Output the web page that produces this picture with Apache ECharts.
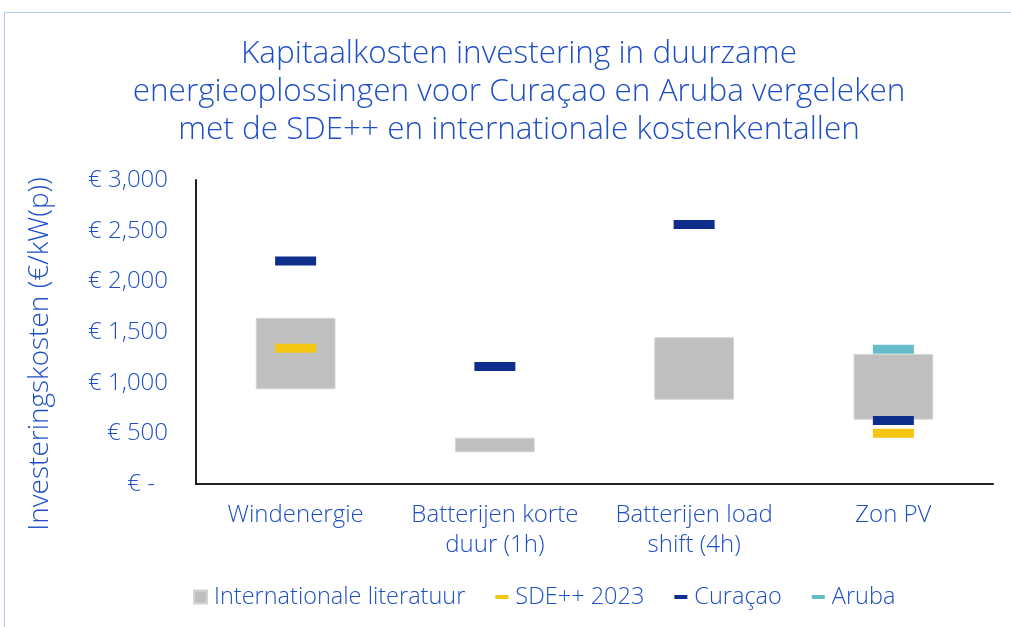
<!DOCTYPE html>
<html><head><meta charset="utf-8">
<script src="https://cdn.jsdelivr.net/npm/echarts@6/dist/echarts.min.js"></script>
<style>html,body{margin:0;padding:0;background:#fff}#c{width:1011px;height:627px}</style>
</head><body><div id="c"></div>
<script>
var categories = ['Windenergie', 'Batterijen korte\nduur (1h)', 'Batterijen load\nshift (4h)', 'Zon PV'];
var litLow  = [935, 313, 832, 635];
var litHigh = [1640, 457, 1448, 1283];
var sde     = [1340, null, null, 500];
var curacao = [2200, 1160, 2560, 627];
var aruba   = [null, null, null, 1330];
var yTicks  = [0, 500, 1000, 1500, 2000, 2500, 3000];

var BLUE = '#1f4fc4';
var FONT = '"Open Sans"';
var W = 300;
var chart = echarts.init(document.getElementById('c'), null, {renderer: 'canvas'});
var markSize = [41, 9];
chart.setOption({
  backgroundColor: '#fff',
  animation: false,
  textStyle: {fontFamily: FONT, fontWeight: W},
  title: {
    text: 'Kapitaalkosten investering in duurzame\nenergieoplossingen voor Curaçao en Aruba vergeleken\nmet de SDE++ en internationale kostenkentallen',
    left: 514, top: 30, textAlign: 'center',
    textStyle: {color: BLUE, fontSize: 31.5, fontWeight: W, fontFamily: FONT, lineHeight: 38}
  },
  graphic: [
    {type: 'rect', shape: {x: 4.5, y: 12.5, width: 1100, height: 700}, style: {fill: 'none', stroke: '#b3c8f2', lineWidth: 1}, silent: true},
    {type: 'text', x: 40, y: 354, rotation: Math.PI / 2,
     style: {text: 'Investeringskosten (€/kW(p))', fill: BLUE, fontSize: 28, fontFamily: FONT, fontWeight: W, align: 'center', verticalAlign: 'middle'}}
  ],
  legend: {
    top: 580, left: 188, itemGap: 30, itemWidth: 13, itemHeight: 13,
    textStyle: {color: BLUE, fontSize: 23.5, fontFamily: FONT, fontWeight: W, padding: [0, 0, 0, 2]},
    data: [
      {name: 'Internationale literatuur', icon: 'rect'},
      {name: 'SDE++ 2023', icon: 'path://M0,0h13v4h-13z'},
      {name: 'Curaçao', icon: 'path://M0,0h13v4h-13z'},
      {name: 'Aruba', icon: 'path://M0,0h13v4h-13z'}
    ]
  },
  grid: {left: 196, right: 18, top: 180, bottom: 143},
  xAxis: {
    type: 'category', data: categories,
    axisLine: {lineStyle: {color: '#222', width: 2}},
    axisTick: {show: false},
    axisLabel: {color: BLUE, fontSize: 24, fontFamily: FONT, fontWeight: W, margin: 16, lineHeight: 30, interval: 0}
  },
  yAxis: {
    type: 'value', min: 0, max: 3000, interval: 500,
    axisLine: {show: true, lineStyle: {color: '#222', width: 2}},
    axisTick: {show: false},
    splitLine: {show: false},
    axisLabel: {
      color: BLUE, fontSize: 24, fontFamily: FONT, fontWeight: W, margin: 28,
      formatter: function (v) {
        if (v === 0) return '{z|€ -}';
        return '€ ' + v.toLocaleString('en-US');
      },
      rich: {z: {color: BLUE, fontSize: 24, fontFamily: FONT, fontWeight: W, padding: [0, 13, 0, 0]}}
    }
  },
  series: [
    {name: 'base', type: 'bar', stack: 'r', barWidth: '40%', silent: true,
     itemStyle: {color: 'transparent'}, data: litLow},
    {name: 'Internationale literatuur', type: 'bar', stack: 'r', barWidth: '40%',
     itemStyle: {color: '#bfbfbf', borderColor: '#d4d4d4', borderWidth: 1},
     data: litHigh.map(function (h, i) { return h - litLow[i]; })},
    {name: 'SDE++ 2023', type: 'scatter', symbol: 'rect', symbolSize: markSize, z: 5,
     itemStyle: {color: '#f5c514', opacity: 1}, data: sde},
    {name: 'Curaçao', type: 'scatter', symbol: 'rect', symbolSize: markSize, z: 5,
     itemStyle: {color: '#0f2d8a', opacity: 1}, data: curacao},
    {name: 'Aruba', type: 'scatter', symbol: 'rect', symbolSize: markSize, z: 5,
     itemStyle: {color: '#67bccb', opacity: 1}, data: aruba}
  ]
});
</script></body></html>
